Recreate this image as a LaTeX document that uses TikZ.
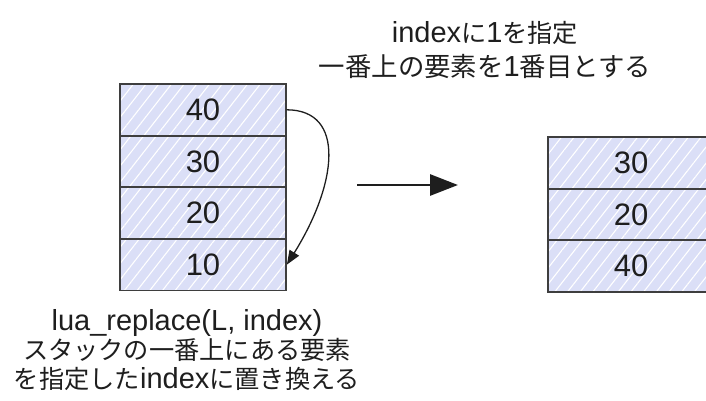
\documentclass[tikz,border=0pt]{standalone}
\usepackage{fontspec}
\setmainfont{Liberation Sans}
\newfontfamily\jp[Scale=0.87]{Noto Sans CJK JP}
\newfontfamily\jpwide[Scale=0.91]{Noto Sans CJK JP}
\usetikzlibrary{arrows.meta,patterns.meta}
\definecolor{cellfill}{RGB}{219,223,247}
\definecolor{cellline}{RGB}{62,62,62}
\definecolor{ink}{RGB}{30,30,30}
\tikzset{
  cell/.style={draw=cellline, line width=1.8pt,
    minimum width=166pt, minimum height=51.6pt, inner sep=0pt,
    preaction={fill=cellfill},
    pattern={Lines[angle=52,distance=10pt,line width=1.1pt]}, pattern color=white,
    font=\fontsize{31}{31}\selectfont, text=ink},
  caption/.style={align=center, text=ink, inner sep=0pt},
  swap/.style={draw=ink, line width=1.3pt, -{Triangle[length=14pt,width=11pt]}},
  step arrow/.style={draw=ink, line width=2.8pt, -{Triangle[length=28pt,width=21pt]}}
}
\begin{document}
\begin{tikzpicture}[x=1pt,y=-1pt]
  \useasboundingbox (0,0) rectangle (706,401);
  \clip (0,0) rectangle (706,401);

  % stack before the call
  \node[cell] (a40) at (203,109.8) {40};
  \node[cell] (a30) at (203,161.4) {30};
  \node[cell] (a20) at (203,213.0) {20};
  \node[cell] (a10) at (203,264.6) {10};

  % stack after the call
  \node[cell] (b30) at (631,162.8) {30};
  \node[cell] (b20) at (631,214.4) {20};
  \node[cell] (b40) at (631,266.0) {40};

  % top element moved into slot 1
  \draw[swap] (a40.east) .. controls +(60,0) and +(50,-80) .. (a10.east);

  % transition
  \coordinate (from) at (357,185);
  \coordinate (to) at (458,185);
  \draw[step arrow] (from) -- (to);

  % captions
  \node[caption, font=\fontsize{29}{34}\selectfont] (top) at (485,50)
    {index{\jp に}1{\jp を指定}\\{\jpwide 一番上の要素を}1{\jpwide 番目とする}};
  \node[caption, font=\fontsize{29}{29}\selectfont] (bottom) at (187,350)
    {lua\_replace(L, index)\\{\jp スタックの一番上にある要素}\\{\jp を指定した}index{\jp に置き換える}};
\end{tikzpicture}
\end{document}
